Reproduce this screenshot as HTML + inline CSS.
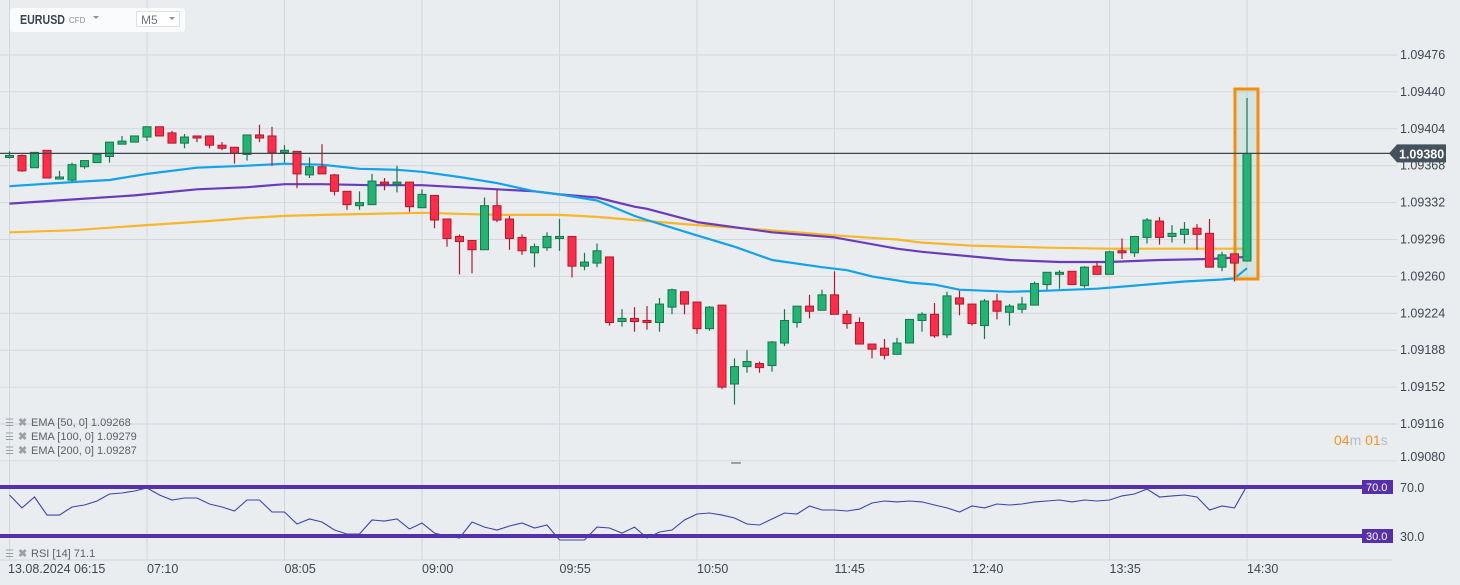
<!DOCTYPE html>
<html><head><meta charset="utf-8"><style>
html,body{margin:0;padding:0;background:#eaedf0;}
svg{display:block;font-family:"Liberation Sans",sans-serif;}
</style></head><body>
<svg id="chart" width="1460" height="585" viewBox="0 0 1460 585" xmlns="http://www.w3.org/2000/svg">
<rect x="0" y="0" width="1460" height="585" fill="#eaedf0"/>
<g id="grid"></g>
<g id="ema"></g>
<rect x="1235" y="89" width="23" height="190" fill="rgba(80,190,150,0.15)" stroke="#f58d0a" stroke-width="3"/>
<g id="candles"></g>
<g id="rsi"></g>
<g id="axes"></g>
<g>
<rect x="10" y="8" width="175" height="24" rx="3" fill="#fafbfc"/>
<text x="20" y="24" font-size="13" font-weight="bold" fill="#3b4450" textLength="45" lengthAdjust="spacingAndGlyphs">EURUSD</text>
<text x="69" y="23" font-size="8" fill="#8a9099">CFD</text>
<path d="M93 16 L99 16 L96 19 Z" fill="#8a9099"/>
<rect x="136.5" y="11.5" width="43" height="15" fill="#fff" stroke="#dde1e5"/>
<text x="141" y="24" font-size="12" fill="#6b737c">M5</text>
<path d="M169 17 L175 17 L172 20 Z" fill="#8a9099"/>
</g>
<g font-size="11" fill="#5a6068">
<text x="31" y="426">EMA [50,  0] 1.09268</text>
<text x="31" y="440">EMA [100,  0] 1.09279</text>
<text x="31" y="454">EMA [200,  0] 1.09287</text>
<text x="31" y="557">RSI [14]  71.1</text>
</g>
<g id="legicons"></g>
<rect x="731" y="462" width="10" height="2" fill="#9aa0a6"/>
<text x="1334" y="445" font-size="14" fill="#f7941d">04<tspan fill="#b8bcc0">m </tspan>01<tspan fill="#b8bcc0">s</tspan></text>
</svg>
<script>
const categories=["13.08.2024  06:15","07:10","08:05","09:00","09:55","10:50","11:45","12:40","13:35","14:30"];
const priceTicks=[1.09476,1.09440,1.09404,1.09368,1.09332,1.09296,1.09260,1.09224,1.09188,1.09152,1.09116,1.09080];
const openP=[1.09376,1.09378,1.09366,1.09383,1.09355,1.09354,1.09367,1.09371,1.09377,1.09389,1.09391,1.09396,1.09406,1.09400,1.09390,1.09397,1.09397,1.09388,1.09386,1.09379,1.09398,1.09397,1.09381,1.09382,1.09359,1.09367,1.09359,1.09343,1.09329,1.09330,1.09352,1.09350,1.09352,1.09327,1.09339,1.09316,1.09299,1.09295,1.09286,1.09329,1.09316,1.09298,1.09283,1.09288,1.09297,1.09299,1.09270,1.09273,1.09279,1.09216,1.09219,1.09217,1.09215,1.09230,1.09245,1.09235,1.09209,1.09232,1.09155,1.09172,1.09175,1.09173,1.09195,1.09215,1.09231,1.09227,1.09242,1.09223,1.09215,1.09194,1.09190,1.09184,1.09195,1.09217,1.09223,1.09203,1.09239,1.09233,1.09212,1.09236,1.09225,1.09228,1.09232,1.09252,1.09262,1.09265,1.09251,1.09270,1.09262,1.09285,1.09283,1.09298,1.09314,1.09299,1.09301,1.09307,1.09302,1.09269,1.09282,1.09275];
const highP=[1.09382,1.09379,1.09381,1.09383,1.09363,1.09371,1.09373,1.09379,1.09391,1.09397,1.09397,1.09406,1.09406,1.09402,1.09399,1.09397,1.09397,1.09391,1.09386,1.09398,1.09408,1.09406,1.09388,1.09382,1.09376,1.09389,1.09360,1.09343,1.09343,1.09360,1.09356,1.09368,1.09352,1.09345,1.09339,1.09316,1.09301,1.09295,1.09337,1.09345,1.09319,1.09301,1.09292,1.09303,1.09316,1.09299,1.09283,1.09292,1.09279,1.09228,1.09230,1.09231,1.09239,1.09248,1.09245,1.09235,1.09231,1.09232,1.09180,1.09188,1.09177,1.09197,1.09228,1.09231,1.09242,1.09247,1.09265,1.09227,1.09220,1.09194,1.09199,1.09200,1.09218,1.09225,1.09234,1.09245,1.09246,1.09233,1.09238,1.09243,1.09233,1.09240,1.09255,1.09264,1.09266,1.09265,1.09270,1.09275,1.09285,1.09297,1.09299,1.09317,1.09318,1.09310,1.09313,1.09311,1.09316,1.09284,1.09282,1.09434];
const lowP=[1.09375,1.09362,1.09366,1.09356,1.09355,1.09353,1.09365,1.09371,1.09371,1.09389,1.09391,1.09392,1.09397,1.09390,1.09385,1.09391,1.09385,1.09383,1.09370,1.09373,1.09391,1.09368,1.09371,1.09346,1.09356,1.09360,1.09339,1.09325,1.09325,1.09330,1.09344,1.09342,1.09323,1.09327,1.09307,1.09289,1.09262,1.09263,1.09286,1.09313,1.09286,1.09281,1.09269,1.09285,1.09285,1.09259,1.09266,1.09269,1.09212,1.09211,1.09206,1.09208,1.09206,1.09223,1.09223,1.09204,1.09207,1.09150,1.09135,1.09166,1.09166,1.09167,1.09192,1.09210,1.09219,1.09227,1.09223,1.09209,1.09194,1.09180,1.09179,1.09184,1.09195,1.09206,1.09200,1.09200,1.09222,1.09212,1.09199,1.09218,1.09212,1.09224,1.09232,1.09247,1.09248,1.09252,1.09249,1.09262,1.09262,1.09277,1.09279,1.09292,1.09291,1.09293,1.09292,1.09286,1.09269,1.09265,1.09255,1.09275];
const closeP=[1.09378,1.09363,1.09381,1.09356,1.09357,1.09369,1.09373,1.09379,1.09391,1.09392,1.09397,1.09406,1.09397,1.09390,1.09396,1.09395,1.09388,1.09385,1.09380,1.09398,1.09395,1.09381,1.09383,1.09360,1.09367,1.09360,1.09343,1.09330,1.09332,1.09353,1.09350,1.09352,1.09328,1.09340,1.09315,1.09297,1.09294,1.09286,1.09329,1.09315,1.09297,1.09285,1.09289,1.09299,1.09299,1.09270,1.09274,1.09285,1.09215,1.09219,1.09216,1.09215,1.09233,1.09247,1.09233,1.09209,1.09230,1.09152,1.09172,1.09177,1.09171,1.09196,1.09217,1.09231,1.09226,1.09242,1.09223,1.09214,1.09194,1.09189,1.09183,1.09195,1.09218,1.09223,1.09202,1.09241,1.09233,1.09214,1.09236,1.09226,1.09231,1.09233,1.09253,1.09264,1.09264,1.09252,1.09269,1.09262,1.09284,1.09283,1.09299,1.09315,1.09298,1.09302,1.09306,1.09301,1.09269,1.09281,1.09273,1.09380];
const ema50Idx=[0,5,8,11,15,19,22,25,28,31,33,36,39,42,44,47,50,51,55,58,61,65,67,69,72,74,76,80,83,87,90,94,97,98,99];
const ema50Val=[1.09348,1.09352,1.09354,1.09360,1.09366,1.09368,1.09370,1.09369,1.09365,1.09364,1.09362,1.09357,1.09351,1.09343,1.09340,1.09334,1.09319,1.09315,1.09300,1.09289,1.09276,1.09269,1.09266,1.09260,1.09254,1.09252,1.09247,1.09245,1.09246,1.09248,1.09251,1.09255,1.09257,1.09258,1.09268];
const ema100Idx=[0,5,10,15,19,22,25,29,33,36,39,42,44,47,50,51,55,61,66,71,73,80,84,88,92,96,99];
const ema100Val=[1.09331,1.09335,1.09339,1.09345,1.09347,1.09350,1.09350,1.09349,1.09349,1.09347,1.09345,1.09343,1.09340,1.09337,1.09328,1.09326,1.09313,1.09303,1.09298,1.09287,1.09284,1.09276,1.09274,1.09274,1.09276,1.09277,1.09279];
const ema200Idx=[0,5,11,16,19,22,25,33,39,44,47,51,55,61,66,71,73,77,83,88,93,99];
const ema200Val=[1.09303,1.09305,1.09310,1.09314,1.09317,1.09319,1.09320,1.09322,1.09320,1.09320,1.09318,1.09314,1.09310,1.09305,1.09300,1.09296,1.09293,1.09290,1.09288,1.09287,1.09287,1.09287];
const rsiVal=[63.5,52.9,61.8,47.1,47.1,53.7,55.3,58.6,64.3,65.1,66.7,69.2,63.5,59.4,61.0,61.0,56.1,53.7,50.4,59.4,59.4,49.6,49.6,39.8,43.9,41.4,34.9,31.6,31.6,43.1,42.2,43.9,35.7,40.6,32.4,30.0,28.4,41.4,37.3,34.9,38.2,40.6,36.5,39.0,26.7,26.7,26.7,37.3,36.5,32.4,37.3,28.4,33.3,34.9,43.1,48.0,48.8,47.1,44.7,39.8,39.0,43.9,48.8,48.0,54.5,51.2,51.2,50.4,52.0,56.9,58.6,57.8,58.6,57.8,55.3,52.9,49.6,54.5,52.9,56.1,55.3,56.1,57.8,58.6,59.4,57.8,59.4,58.6,59.4,62.7,64.3,68.4,61.8,62.7,63.5,61.8,51.2,54.5,52.9,71.1];
const rsiLevels=[70,30];
const lastPrice=1.09380;

const NS="http://www.w3.org/2000/svg";
function mk(tag,attrs,parent){const e=document.createElementNS(NS,tag);for(const k in attrs)e.setAttribute(k,attrs[k]);parent.appendChild(e);return e;}
const xOf=i=>9.5+12.5*i;
const yOf=p=>55+(1.09476-p)*102500;
const yRsi=v=>487+(70-v)*1.225;
const grid=document.getElementById('grid'),axes=document.getElementById('axes');
priceTicks.forEach((p,k)=>{
  const y=yOf(p);
  const l=mk('line',{x1:0,x2:1397,y1:y,y2:y,stroke:'#d3d8dc','stroke-width':1},grid);
  
  
  const t=mk('text',{x:1400,y:Math.min(y,457)+4,'font-size':12.5,fill:'#3f4650'},axes);
  t.textContent=p.toFixed(5);
  
  
});
const lb=mk('line',{x1:0,x2:1392,y1:560,y2:560,stroke:'#d3d8dc'},grid);


categories.forEach((c,k)=>{
  const x=xOf(k*11);
  const l=mk('line',{x1:x,x2:x,y1:0,y2:560,stroke:'#d3d8dc'},grid);
  
  
  const t=mk('text',{x:k===0?8:x,y:573,'font-size':12.5,fill:'#3f4650','xml:space':'preserve'},axes);
  t.textContent=c;
  
  
});
const ema=document.getElementById('ema');
function emaLine(idx,val,color,name){
  const d=idx.map((i,k)=>(k?'L':'M')+xOf(i).toFixed(1)+' '+yOf(val[k]).toFixed(1)).join(' ');
  const p=mk('path',{d:d,fill:'none',stroke:color,'stroke-width':2.2,'stroke-linejoin':'round'},ema);
  
  
}
emaLine(ema200Idx,ema200Val,'#f8b72a','ema-200-line');
emaLine(ema100Idx,ema100Val,'#6a3cbc','ema-100-line');
emaLine(ema50Idx,ema50Val,'#12a3ea','ema-50-line');
const cl=mk('line',{x1:0,x2:1392,y1:yOf(lastPrice),y2:yOf(lastPrice),stroke:'#3c4650','stroke-width':1.2},axes);


const cy=yOf(lastPrice);
const cb=mk('path',{d:`M1389 ${cy} L1397 ${cy-9} L1446 ${cy-9} L1446 ${cy+9} L1397 ${cy+9} Z`,fill:'#45525e'},axes);


const ct=mk('text',{x:1399,y:cy+5,'font-size':12.5,'font-weight':'bold',fill:'#fff'},axes);
ct.textContent=lastPrice.toFixed(5);


const cg=document.getElementById('candles');
openP.forEach((o,i)=>{
  const c=closeP[i],up=c>=o,x=xOf(i);
  const fill=up?'#22b473':'#ff2d47',st=up?'#14784a':'#b3192e';
  const w=mk('line',{x1:x,x2:x,y1:yOf(highP[i]),y2:yOf(lowP[i]),stroke:st,'stroke-width':1.2},cg);
  
  
  const yt=yOf(Math.max(o,c)),yb=yOf(Math.min(o,c));
  const b=mk('rect',{x:x-4,y:yt,width:8,height:Math.max(yb-yt,1.5),fill:fill,stroke:st,'stroke-width':1},cg);
  
  
});
const rg=document.getElementById('rsi');
rsiLevels.forEach(v=>{
  const y=yRsi(v);
  const l=mk('line',{x1:0,x2:1362,y1:y,y2:y,stroke:'#5530a8','stroke-width':4},rg);
  
  
  const r=mk('rect',{x:1362,y:y-7,width:31,height:14,fill:'#5530a8'},rg);
  
  
  const t=mk('text',{x:1366,y:y+4,'font-size':11,fill:'#fff'},rg);
  t.textContent=v.toFixed(1);
  
  
  const t2=mk('text',{x:1400,y:y+5,'font-size':12.5,fill:'#3f4650'},rg);
  t2.textContent=v.toFixed(1);
  
  
});
const rd=rsiVal.map((v,i)=>(i?'L':'M')+xOf(i).toFixed(1)+' '+yRsi(v).toFixed(1)).join(' ');
const rl=mk('path',{d:rd,fill:'none',stroke:'#3d44b0','stroke-width':1.1},rg);


const li=document.getElementById('legicons');
[422,436,450,553].forEach(y=>{
  const a=mk('text',{x:5,y:y+4,'font-size':10,fill:'#9ba1a7'},li);
  a.textContent='☰';
  
  
  const b=mk('text',{x:18,y:y+4,'font-size':11,'font-weight':'bold',fill:'#9ba1a7'},li);
  b.textContent='✖';
  
  
});
</script>
</body></html>
